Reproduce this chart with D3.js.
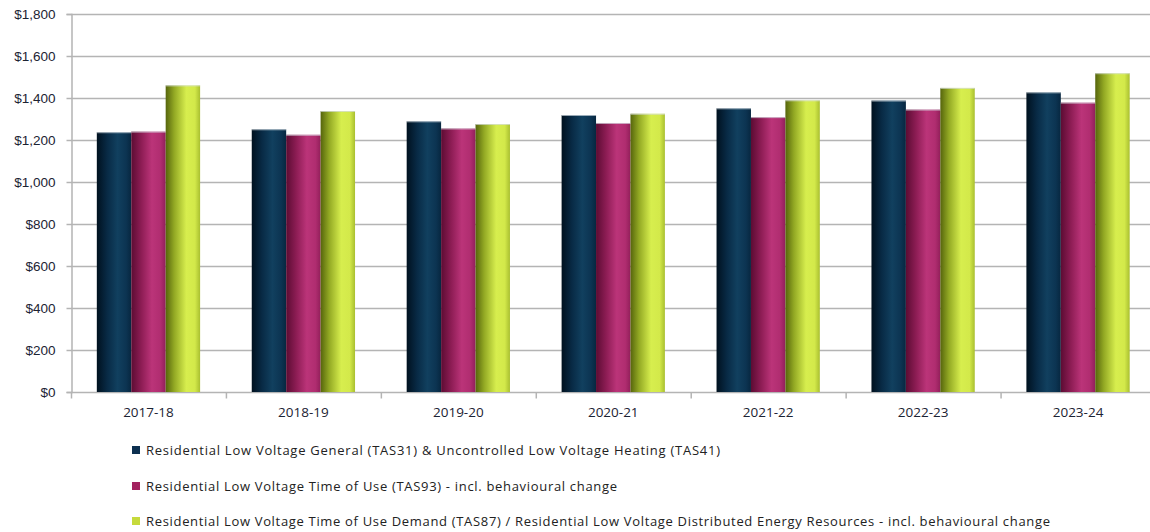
<!DOCTYPE html>
<html>
<head>
<meta charset="utf-8">
<script src="https://cdn.jsdelivr.net/npm/d3@7"></script>
<style>
  html, body { margin: 0; padding: 0; background: #ffffff; }
  svg { display: block; font-family: "Open Sans", "Noto Sans", sans-serif; }
</style>
</head>
<body>
<svg id="chart" width="1150" height="532"></svg>
<script>
// Financial years on the category axis
const years = ["2017-18", "2018-19", "2019-20", "2020-21", "2021-22", "2022-23", "2023-24"];

// Annual bill ($) per tariff group
const generalTAS31 = [1237, 1251, 1289, 1319, 1351, 1388, 1427];
const timeOfUseTAS93 = [1240, 1225, 1255, 1281, 1309, 1345, 1378];
const demandTAS87 = [1460, 1338, 1276, 1325, 1389, 1448, 1518];

const seriesNames = [
  "Residential Low Voltage General (TAS31) & Uncontrolled Low Voltage Heating (TAS41)",
  "Residential Low Voltage Time of Use (TAS93) - incl. behavioural change",
  "Residential Low Voltage Time of Use Demand (TAS87) / Residential Low Voltage Distributed Energy Resources - incl. behavioural change"
];

const yTicks = [0, 200, 400, 600, 800, 1000, 1200, 1400, 1600, 1800];

const series = [
  { key: "s0", name: seriesNames[0], values: generalTAS31, swatch: "#0d3050",
    stops: [[0, "#00111f"], [0.3, "#082a45"], [0.6, "#11405f"], [0.85, "#0c3452"], [1, "#072740"]] },
  { key: "s1", name: seriesNames[1], values: timeOfUseTAS93, swatch: "#a3225f",
    stops: [[0, "#5c0c33"], [0.3, "#8e1d55"], [0.6, "#bb3479"], [0.85, "#b02d70"], [1, "#921f5a"]] },
  { key: "s2", name: seriesNames[2], values: demandTAS87, swatch: "#c6da3c",
    stops: [[0, "#56650c"], [0.25, "#93a924"], [0.6, "#d7ee4e"], [0.85, "#d3e94a"], [1, "#a9bf30"]] }
];

const svg = d3.select("#chart");
const margin = { top: 14, left: 71, bottom: 392 };
const plotRight = 1155.5;

const x0 = d3.scaleBand().domain(years).range([margin.left, plotRight]).paddingInner(0).paddingOuter(0);
// Excel-style gap width of 150%: group occupies 3 / 4.5 of each band
const groupPad = x0.bandwidth() * (1.5 / 4.5) / 2;
const x1 = d3.scaleBand().domain(series.map(s => s.key))
  .range([groupPad, x0.bandwidth() - groupPad]).padding(0);
const y = d3.scaleLinear().domain([0, 1800]).range([margin.bottom, margin.top]);

// Cylinder-like shading for each series
const defs = svg.append("defs");
series.forEach(s => {
  const g = defs.append("linearGradient").attr("id", "grad-" + s.key)
    .attr("x1", "0%").attr("x2", "100%").attr("y1", "0%").attr("y2", "0%");
  s.stops.forEach(([o, c]) => g.append("stop").attr("offset", o).attr("stop-color", c));
});

// Horizontal gridlines
svg.append("g").selectAll("line").data(yTicks.filter(d => d > 0)).join("line")
  .attr("x1", margin.left).attr("x2", 1150)
  .attr("y1", d => y(d) + 0.5).attr("y2", d => y(d) + 0.5)
  .attr("stroke", "#b4b4b4").attr("stroke-width", 1.5);

// Y axis
const yAxis = svg.append("g").attr("transform", `translate(${margin.left + 0.5},0)`)
  .call(d3.axisLeft(y).tickValues(yTicks).tickSize(5).tickPadding(11)
    .tickFormat(d => "$" + d3.format(",")(d)));
yAxis.select(".domain").attr("stroke", "#b4b4b4").attr("stroke-width", 1.5);
yAxis.selectAll(".tick line").attr("stroke", "#b4b4b4").attr("stroke-width", 1.5);
yAxis.selectAll(".tick text").attr("fill", "#1c2333").attr("font-size", 13.5);

// X axis with ticks at category boundaries
const xg = svg.append("g").attr("transform", `translate(0,${margin.bottom + 0.5})`);
xg.append("line").attr("x1", margin.left).attr("x2", 1150)
  .attr("stroke", "#b4b4b4").attr("stroke-width", 1.5);
xg.selectAll("line.b").data(years).join("line").attr("class", "b")
  .attr("x1", d => x0(d) + 0.5).attr("x2", d => x0(d) + 0.5)
  .attr("y1", 0).attr("y2", 6).attr("stroke", "#b4b4b4").attr("stroke-width", 1.5);
xg.selectAll("text").data(years).join("text")
  .attr("x", d => x0(d) + x0.bandwidth() / 2).attr("y", 24)
  .attr("text-anchor", "middle").attr("fill", "#1c2333").attr("font-size", 13.5)
  .text(d => d);

// Bars
const groups = svg.append("g").selectAll("g").data(years).join("g")
  .attr("transform", d => `translate(${x0(d)},0)`);
groups.selectAll("rect").data((d, i) => series.map(s => ({ key: s.key, v: s.values[i] }))).join("rect")
  .attr("x", d => x1(d.key))
  .attr("width", x1.bandwidth())
  .attr("y", d => y(d.v))
  .attr("height", d => y(0) - y(d.v))
  .attr("fill", d => `url(#grad-${d.key})`);
// light rim along each bar top
groups.selectAll("line.rim").data((d, i) => series.map(s => ({ key: s.key, v: s.values[i] }))).join("line")
  .attr("class", "rim")
  .attr("x1", d => x1(d.key)).attr("x2", d => x1(d.key) + x1.bandwidth())
  .attr("y1", d => y(d.v) + 0.5).attr("y2", d => y(d.v) + 0.5)
  .attr("stroke", "#d6dde3").attr("stroke-opacity", 0.7).attr("stroke-width", 1);

// Legend
const legendRows = [450, 486, 521];
const legendWidths = [574, 471, 904];
const legend = svg.append("g").selectAll("g").data(series).join("g")
  .attr("transform", (d, i) => `translate(132,${legendRows[i]})`);
legend.append("rect").attr("x", 0).attr("y", -4).attr("width", 8).attr("height", 8)
  .attr("fill", d => d.swatch);
legend.append("text").attr("x", 14).attr("y", 0).attr("dy", "0.35em")
  .attr("fill", "#222222").attr("font-size", 13)
  .attr("textLength", (d, i) => legendWidths[i]).attr("lengthAdjust", "spacing")
  .text(d => d.name);
</script>
</body>
</html>
